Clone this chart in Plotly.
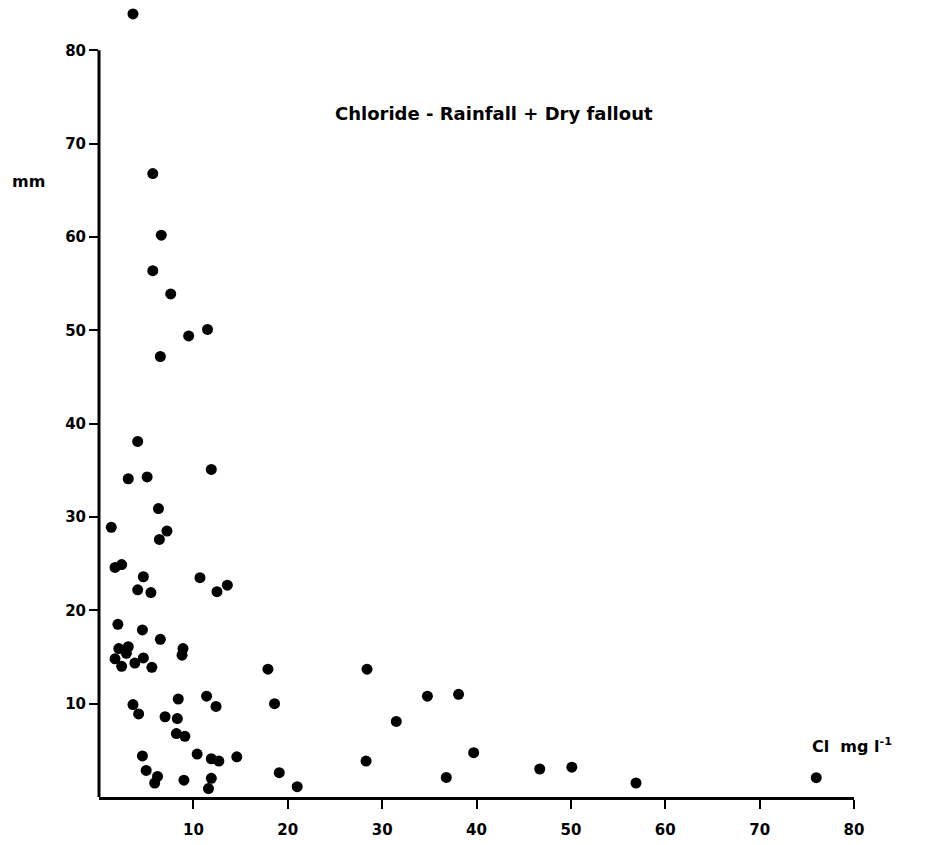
import plotly.graph_objects as go

chloride = [3.6, 5.7, 6.6, 5.7, 7.6, 9.5, 11.5, 6.5, 4.1, 11.9, 3.1, 5.1, 6.3, 1.3, 7.2, 6.4,
            1.7, 2.4, 4.7, 4.1, 5.5, 10.7, 13.6, 12.5, 2.0, 4.6, 6.5, 8.9, 8.8, 2.1, 3.1, 2.9,
            1.7, 2.4, 3.8, 4.7, 5.6, 17.9, 3.6, 4.2, 8.4, 11.4, 12.4, 18.6, 7.0, 8.3, 8.2, 9.1,
            4.6, 10.4, 11.9, 12.7, 14.6, 5.0, 6.2, 5.9, 9.0, 11.9, 11.6, 19.1, 21.0, 28.4,
            34.8, 38.1, 31.5, 28.3, 39.7, 36.8, 46.7, 50.1, 56.9, 76.0]
rainfall = [83.9, 66.8, 60.2, 56.4, 53.9, 49.4, 50.1, 47.2, 38.1, 35.1, 34.1, 34.3, 30.9, 28.9, 28.5, 27.6,
            24.6, 24.9, 23.6, 22.2, 21.9, 23.5, 22.7, 22.0, 18.5, 17.9, 16.9, 15.9, 15.2, 15.9, 16.1, 15.4,
            14.8, 14.0, 14.35, 14.9, 13.9, 13.7, 9.9, 8.9, 10.5, 10.8, 9.7, 10.0, 8.6, 8.4, 6.8, 6.5,
            4.4, 4.6, 4.1, 3.85, 4.3, 2.85, 2.2, 1.5, 1.8, 2.0, 0.9, 2.6, 1.1, 13.7,
            10.8, 11.0, 8.1, 3.85, 4.75, 2.1, 3.0, 3.2, 1.5, 2.07]

tick_vals = [10, 20, 30, 40, 50, 60, 70, 80]
tick_text = ["10", "20", "30", "40", "50", "60", "70", "80"]

title_text = "Chloride - Rainfall + Dry fallout"
y_label = "mm"
x_label = "Cl  mg l<sup>-1</sup>"

FONT = "DejaVu Sans, Liberation Sans, Arial, sans-serif"
AXIS_MAX = 80
Y_VIEW_MAX = 84.54  # extra room above the axis so the outlier above 80 stays visible

fig = go.Figure()
fig.add_trace(go.Scatter(
    x=chloride, y=rainfall, mode="markers",
    marker=dict(size=11, color="black", line=dict(width=0)),
    cliponaxis=False, hoverinfo="x+y", showlegend=False,
))

axis_common = dict(
    linecolor="black", linewidth=3,
    ticks="outside", ticklen=9, tickwidth=2, tickcolor="black",
    showgrid=False, zeroline=False, automargin=False,
    tickfont=dict(family=FONT, size=15, color="black", weight="bold"),
    tickmode="array", tickvals=tick_vals, ticktext=tick_text,
)

fig.update_xaxes(range=[0, AXIS_MAX], showline=True, ticklabelstandoff=8, **axis_common)
fig.update_yaxes(range=[0, Y_VIEW_MAX], showline=False, **axis_common)

# y axis line drawn only up to the last tick (80)
fig.add_shape(type="line", xref="paper", yref="y", x0=0, x1=0, y0=0, y1=AXIS_MAX,
              line=dict(color="black", width=3), layer="above")

fig.add_annotation(text=title_text, x=41.9, y=73.2, xref="x", yref="y",
                   showarrow=False, xanchor="center", yanchor="middle",
                   font=dict(family=FONT, size=18, color="black", weight="bold"))
fig.add_annotation(text=y_label, x=-0.094, y=65.9, xref="paper", yref="y",
                   showarrow=False, xanchor="center", yanchor="middle",
                   font=dict(family=FONT, size=16, color="black", weight="bold"))
fig.add_annotation(text=x_label, x=75.3, y=5.5, xref="x", yref="y",
                   showarrow=False, xanchor="left", yanchor="middle",
                   font=dict(family=FONT, size=16, color="black", weight="bold"))

fig.update_layout(
    width=928, height=845,
    margin=dict(l=99, r=74, t=8, b=48),
    paper_bgcolor="white", plot_bgcolor="white",
)

fig.write_html("out.html")
